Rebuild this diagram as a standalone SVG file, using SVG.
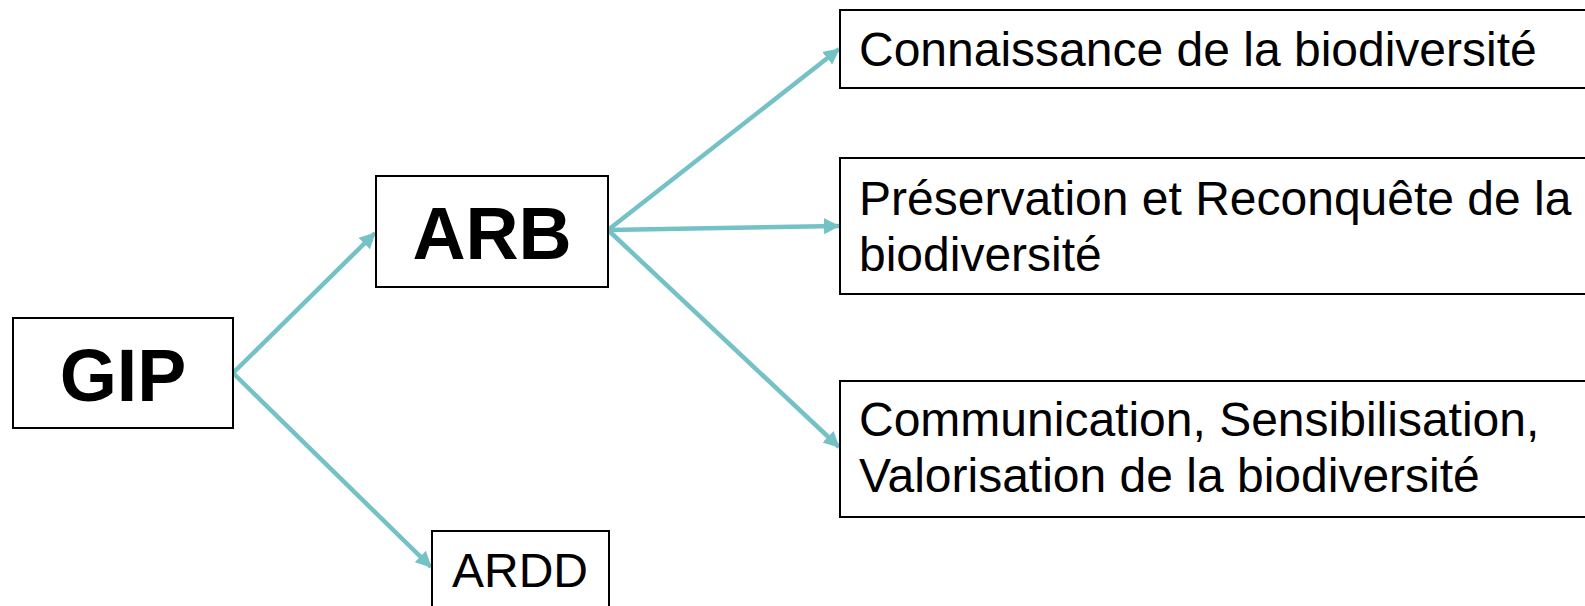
<svg xmlns="http://www.w3.org/2000/svg" width="1585" height="606" viewBox="0 0 1585 606">
<style>
.box{fill:#ffffff;stroke:#000000;stroke-width:2}
.t{font-family:"Liberation Sans",Arial,sans-serif;font-size:48px;fill:#000000}
.tb{font-family:"Liberation Sans",Arial,sans-serif;font-size:73.5px;font-weight:bold;fill:#000000}
.c{fill:none;stroke:#74C1C6;stroke-width:4.5}
</style>
<defs>
<marker id="ah" viewBox="0 0 16 16" refX="15" refY="8" markerWidth="16" markerHeight="16" markerUnits="userSpaceOnUse" orient="auto">
<path d="M0,0 L16,8 L0,16 Z" fill="#74C1C6"/>
</marker>
</defs>
<g id="connectors">
<line class="c" x1="233" y1="373" x2="375" y2="233" marker-end="url(#ah)"/>
<line class="c" x1="233" y1="373" x2="431" y2="567" marker-end="url(#ah)"/>
<line class="c" x1="608" y1="230" x2="839" y2="49" marker-end="url(#ah)"/>
<line class="c" x1="608" y1="230" x2="839" y2="226" marker-end="url(#ah)"/>
<line class="c" x1="608" y1="230" x2="839" y2="447" marker-end="url(#ah)"/>
</g>
<g id="gip">
<rect class="box" x="13" y="318" width="220" height="110"/>
<text class="tb" x="123" y="401" text-anchor="middle">GIP</text>
</g>
<g id="arb">
<rect class="box" x="376" y="176" width="232" height="111"/>
<text class="tb" x="492" y="259" text-anchor="middle">ARB</text>
</g>
<g id="ardd">
<rect class="box" x="432" y="531" width="177" height="80"/>
<text class="t" x="520" y="587" text-anchor="middle">ARDD</text>
</g>
<g id="connaissance">
<rect class="box" x="840" y="10" width="760" height="78"/>
<text class="t" x="859" y="66">Connaissance de la biodiversité</text>
</g>
<g id="preservation">
<rect class="box" x="840" y="158" width="760" height="136"/>
<text class="t" x="859" y="215">Préservation et Reconquête de la</text>
<text class="t" x="859" y="271">biodiversité</text>
</g>
<g id="communication">
<rect class="box" x="840" y="381" width="760" height="136"/>
<text class="t" x="859" y="436">Communication, Sensibilisation,</text>
<text class="t" x="859" y="492">Valorisation de la biodiversité</text>
</g>
</svg>
